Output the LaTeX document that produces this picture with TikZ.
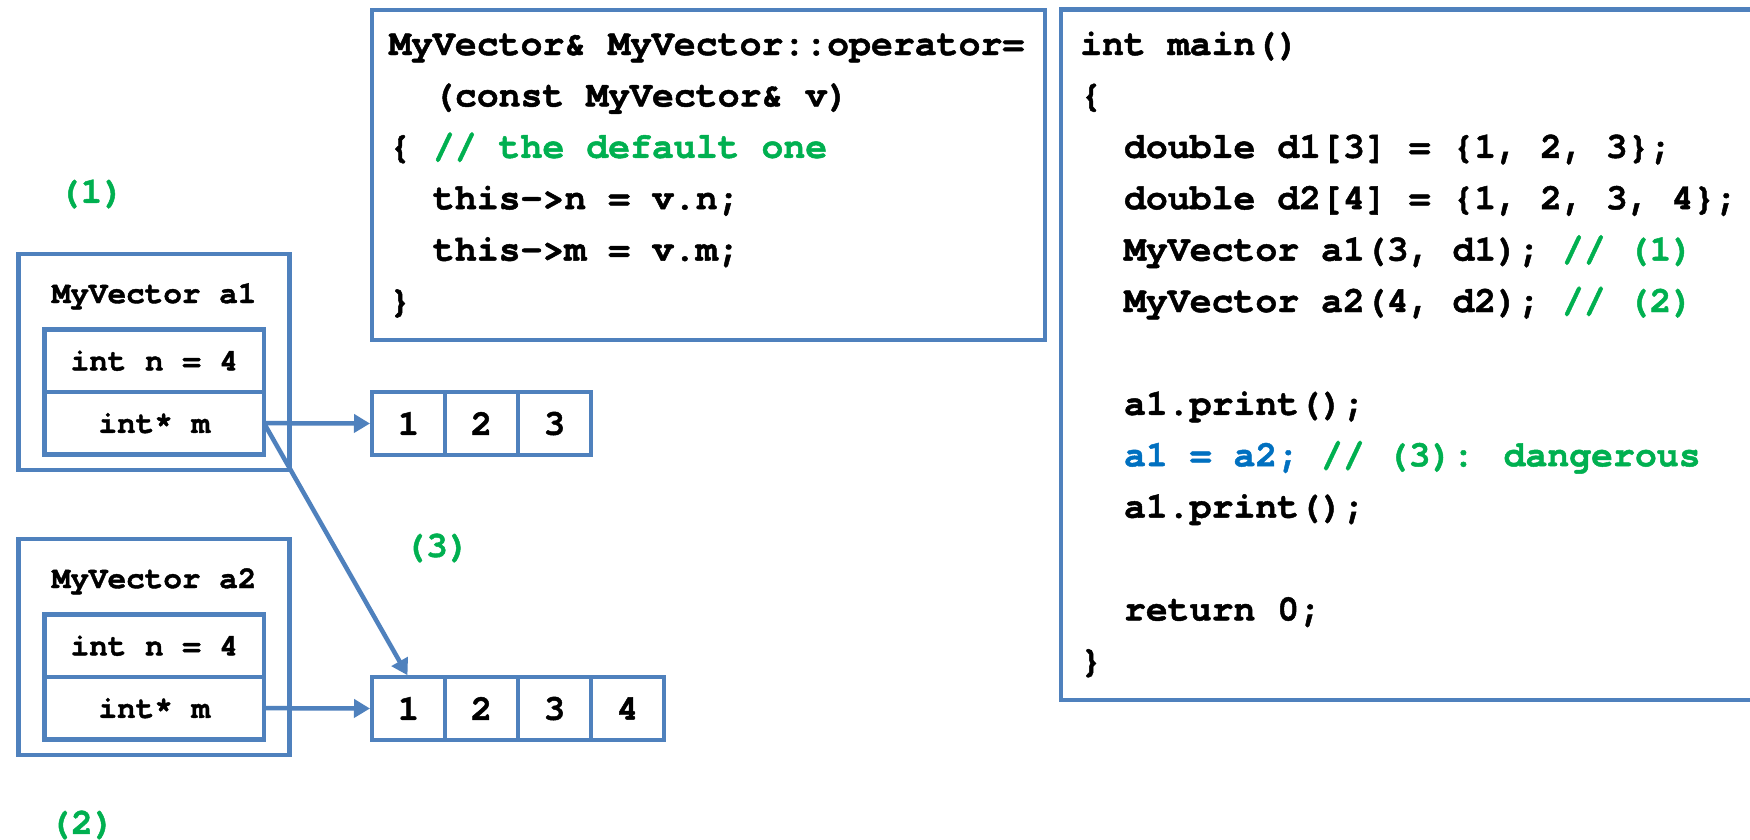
\documentclass[tikz,border=0pt]{standalone}
\usepackage{fontspec}
\setmainfont{TeX Gyre Cursor}[BoldFeatures={FakeBold=1.3}]
\usetikzlibrary{arrows.meta}
\definecolor{bordblue}{HTML}{4F81BD}
\definecolor{cgreen}{HTML}{00B050}
\definecolor{cblue}{HTML}{0070C0}
\begin{document}
\begin{tikzpicture}[x=1pt,y=-1pt,
  box/.style={draw=bordblue, line width=4.5pt, inner sep=0pt, outer sep=0pt},
  field/.style={box, minimum width=219.3pt, minimum height=62.5pt, font=\fontsize{31}{36}\selectfont\bfseries},
  slot/.style={box, minimum width=73pt, minimum height=63pt, font=\fontsize{36}{40}\selectfont\bfseries},
  code/.style={anchor=base west, inner sep=0pt, font=\fontsize{36.5}{44}\selectfont\bfseries},
  lbl/.style={text=cgreen, inner sep=0pt, font=\fontsize{36.5}{44}\selectfont\bfseries},
  head/.style={anchor=base, inner sep=0pt, font=\fontsize{31}{36}\selectfont\bfseries},
  ptr/.style={draw=bordblue, line width=4.5pt, -{Triangle[length=16pt,width=18pt]}, shorten >=2pt}
]
\fill[white] (0,0) rectangle (1750,839);
\useasboundingbox (0,0) rectangle (1750,839);

% object a1
\node[box, minimum width=270.8pt, minimum height=216.2pt] (a1box) at (154.1,361.9) {};
\node[head] (a1head) at (154.1,303) {MyVector a1};
\node[field] (a1n) at (154.35,360.7) {int n = 4};
\node[field] (a1m) at (154.35,423.15) {int* m};

% object a2
\node[box, minimum width=270.8pt, minimum height=216.2pt] (a2box) at (154.1,646.9) {};
\node[head] (a2head) at (154.1,588) {MyVector a2};
\node[field] (a2n) at (154.35,645.7) {int n = 4};
\node[field] (a2m) at (154.35,708.15) {int* m};

% arrays
\node[slot] (c1) at (408.5,423.5) {1};
\node[slot] (c2) at (481.5,423.5) {2};
\node[slot] (c3) at (554.5,423.5) {3};
\node[slot] (d1) at (408.5,708.5) {1};
\node[slot] (d2) at (481.5,708.5) {2};
\node[slot] (d3) at (554.5,708.5) {3};
\node[slot] (d4) at (627.5,708.5) {4};

% pointers
\draw[ptr] (a1m.east) -- (c1.west);
\draw[ptr] (a2m.east) -- (d1.west);
\draw[ptr] (a1m.east) -- (d1.north);

% labels
\node[lbl] (l1) at (91.5,194) {(1)};
\node[lbl] (l2) at (82,825) {(2)};
\node[lbl] (l3) at (437,548) {(3)};

% operator= box
\node[box, anchor=north west, minimum width=673pt, minimum height=330pt] (opbox) at (372,10) {};
\node[code] (o0) at (389,55) {MyVector\& MyVector::operator=};
\node[code] (o1) at (432.8,106.4) {(const MyVector\& v)};
\node[code] (o2) at (389,157.8) {\{ \textcolor{cgreen}{// the default one}};
\node[code] (o3) at (432.8,209.2) {this->n = v.n;};
\node[code] (o4) at (432.8,260.6) {this->m = v.m;};
\node[code] (o5) at (389,312) {\}};

% main box
\begin{scope}
\clip (0,0) rectangle (1750,839);
\node[box, anchor=north west, minimum width=800pt, minimum height=690.7pt] (mainbox) at (1061,9.3) {};
\end{scope}
\node[code] (m0) at (1080,55) {int main()};
\node[code] (m1) at (1080,106.4) {\{};
\node[code] (m2) at (1123.8,157.8) {double d1[3] = \{1, 2, 3\};};
\node[code] (m3) at (1123.8,209.2) {double d2[4] = \{1, 2, 3, 4\};};
\node[code] (m4) at (1123.8,260.6) {MyVector a1(3, d1); \textcolor{cgreen}{// (1)}};
\node[code] (m5) at (1123.8,312) {MyVector a2(4, d2); \textcolor{cgreen}{// (2)}};
\node[code] (m7) at (1123.8,414.8) {a1.print();};
\node[code] (m8) at (1123.8,466.2) {\textcolor{cblue}{a1 = a2;} \textcolor{cgreen}{// (3): dangerous}};
\node[code] (m9) at (1123.8,517.6) {a1.print();};
\node[code] (m11) at (1123.8,620.4) {return 0;};
\node[code] (m12) at (1080,671.8) {\}};
\end{tikzpicture}
\end{document}
